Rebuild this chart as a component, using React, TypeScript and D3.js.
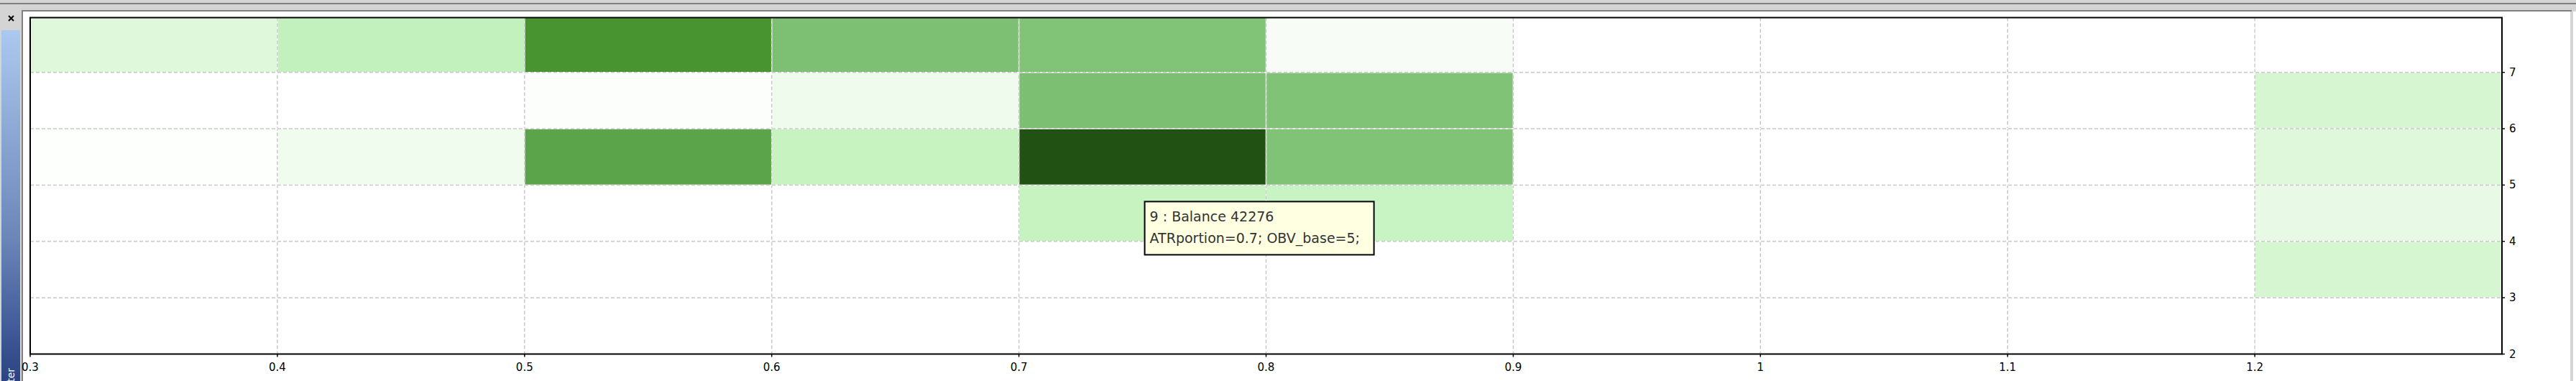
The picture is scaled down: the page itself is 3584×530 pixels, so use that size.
import React from "react";
import * as d3 from "d3";

// ATRportion bins (x) and OBV_base bins (y)
const atrPortion = [0.3, 0.4, 0.5, 0.6, 0.7, 0.8, 0.9, 1.0, 1.1, 1.2];
const obvBase = [2, 3, 4, 5, 6, 7];
const xTickLabels = ["0.3", "0.4", "0.5", "0.6", "0.7", "0.8", "0.9", "1", "1.1", "1.2"];
const yTickLabels = ["2", "3", "4", "5", "6", "7"];

// relative balance intensity per cell (null = no result), one row per OBV_base
const row2 = [null, null, null, null, null, null, null, null, null, null];
const row3 = [null, null, null, null, null, null, null, null, null, 0.258];
const row4 = [null, null, null, null, 0.35, 0.34, null, null, null, 0.141];
const row5 = [0.012, 0.092, 0.73, 0.35, 1.0, 0.6, null, null, null, 0.196];
const row6 = [null, null, 0.0246, 0.098, 0.612, 0.6, null, null, null, 0.258];
const row7 = [0.196, 0.36, 0.8, 0.61, 0.595, 0.049, null, null, null, null];
const rows = [row2, row3, row4, row5, row6, row7];

const tooltipLines = ["9 : Balance 42276", "ATRportion=0.7; OBV_base=5;"];
const sidebarTitle = "Strategy Tester";

const W = 3584;
const H = 530;

export default function App() {
  const x = d3.scaleLinear().domain([0.3, 1.3]).range([42, 3481]);
  const y = d3.scaleLinear().domain([2, 7]).range([492.5, 100.7]);
  const top = 24.5;
  const color = d3
    .scaleLinear<string>()
    .domain([0, 0.35, 0.6, 0.8, 1])
    .range(["#ffffff", "#c6f3c0", "#80c276", "#479431", "#225213"])
    .interpolate(d3.interpolateRgb);

  const cells: { x0: number; x1: number; y0: number; y1: number; c: string; k: string }[] = [];
  rows.forEach((row, ri) => {
    row.forEach((v, ci) => {
      if (v === null) return;
      const a = atrPortion[ci];
      const b = obvBase[ri];
      const x0 = x(a);
      const x1 = x(a + 0.1);
      const y0 = Math.max(top, y(b + 1));
      const y1 = y(b);
      cells.push({ x0, x1, y0, y1, c: color(v), k: `${ri}-${ci}` });
    });
  });

  const font = "'DejaVu Sans', Tahoma, sans-serif";
  const tipX = x(0.7) + 175;
  const tipY = y(5) + 23;

  return (
    <svg
      width={W}
      height={H}
      style={{ position: "absolute", left: 0, top: 0, display: "block" }}
    >
      <defs>
        <linearGradient id="side" x1="0" y1="0" x2="0" y2="1">
          <stop offset="0" stopColor="#abc9ef" />
          <stop offset="0.55" stopColor="#6a86b8" />
          <stop offset="0.8" stopColor="#3d5895" />
          <stop offset="1" stopColor="#1f3576" />
        </linearGradient>
        <clipPath id="plotClip">
          <rect x={x(0.3)} y={top} width={x(1.3) - x(0.3)} height={y(2) - top} />
        </clipPath>
      </defs>
      {/* window chrome */}
      <rect x={0} y={0} width={W} height={H} fill="#d4d4d4" />
      <rect x={0} y={4} width={W} height={2} fill="#808080" />
      <rect x={31} y={14} width={3547} height={H} fill="#ffffff" />
      <rect x={30} y={14} width={3548} height={2} fill="#808080" />
      <rect x={30} y={14} width={2} height={H} fill="#808080" />
      <rect x={3576} y={16} width={4} height={H} fill="#d4d4d4" />
      <rect x={3580} y={16} width={4} height={H} fill="#ffffff" />
      <rect x={2} y={42} width={26} height={H} fill="url(#side)" />
      <text
        transform={`translate(20,512) rotate(-90)`}
        textAnchor="end"
        fontFamily={font}
        fontSize={14}
        fill="#ffffff"
      >
        {sidebarTitle}
      </text>
      {/* close icon */}
      <g stroke="#000" strokeWidth={2}>
        <line x1={12} y1={22} x2={19} y2={29} />
        <line x1={19} y1={22} x2={12} y2={29} />
      </g>

      {/* cells */}
      <g clipPath="url(#plotClip)">
        {cells.map((c) => (
          <rect key={c.k} x={c.x0} y={c.y0} width={c.x1 - c.x0} height={c.y1 - c.y0} fill={c.c} />
        ))}
        {/* grid */}
        {atrPortion.slice(1).map((v) => (
          <g key={"gx" + v}>
            <line x1={x(v)} x2={x(v)} y1={top} y2={y(2)} stroke="#ffffff" strokeWidth={1.5} />
            <line
              x1={x(v)}
              x2={x(v)}
              y1={top}
              y2={y(2)}
              stroke="#c8c8c8"
              strokeWidth={1.5}
              strokeDasharray="5,3"
            />
          </g>
        ))}
        {obvBase.slice(1).map((v) => (
          <g key={"gy" + v}>
            <line x1={x(0.3)} x2={x(1.3)} y1={y(v)} y2={y(v)} stroke="#ffffff" strokeWidth={1.5} />
            <line
              x1={x(0.3)}
              x2={x(1.3)}
              y1={y(v)}
              y2={y(v)}
              stroke="#c8c8c8"
              strokeWidth={1.5}
              strokeDasharray="5,3"
            />
          </g>
        ))}
      </g>

      {/* frame */}
      <rect
        x={x(0.3)}
        y={top}
        width={x(1.3) - x(0.3)}
        height={y(2) - top}
        fill="none"
        stroke="#000"
        strokeWidth={2}
      />

      {/* x axis ticks */}
      {atrPortion.map((v, i) => (
        <g key={"xt" + i}>
          <line x1={x(v)} x2={x(v)} y1={y(2)} y2={y(2) + 4} stroke="#000" strokeWidth={1.5} />
          <text
            x={x(v)}
            y={y(2) + 23}
            textAnchor="middle"
            fontFamily={font}
            fontSize={15}
            fill="#000"
          >
            {xTickLabels[i]}
          </text>
        </g>
      ))}
      {/* y axis ticks (right) */}
      {obvBase.map((v, i) => (
        <g key={"yt" + i}>
          <line x1={x(1.3)} x2={x(1.3) + 4} y1={y(v)} y2={y(v)} stroke="#000" strokeWidth={1.5} />
          <text
            x={x(1.3) + 10}
            y={y(v)}
            dominantBaseline="central"
            fontFamily={font}
            fontSize={15}
            fill="#000"
          >
            {yTickLabels[i]}
          </text>
        </g>
      ))}

      {/* tooltip */}
      <g>
        <rect x={tipX} y={tipY} width={319} height={74} fill="#ffffe1" stroke="#000" strokeWidth={2} />
        {tooltipLines.map((t, i) => (
          <text
            key={"tt" + i}
            x={tipX + 7}
            y={tipY + 28 + i * 30}
            fontFamily={font}
            fontSize={19}
            fill="#333"
          >
            {t}
          </text>
        ))}
      </g>
    </svg>
  );
}
